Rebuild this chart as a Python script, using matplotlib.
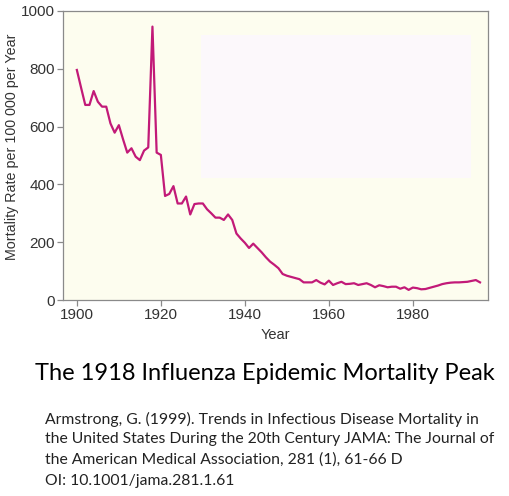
import matplotlib.pyplot as plt
import matplotlib.patches as patches

years = list(range(1900, 1997))
rates = [796, 735, 675, 675, 723, 686, 669, 669, 611, 579,
         605, 556, 510, 525, 496, 484, 517, 528, 946, 510,
         502, 360, 367, 394, 334, 334, 358, 296, 332, 334,
         334, 314, 300, 285, 285, 277, 296, 277, 230, 213,
         198, 180, 195, 180, 165, 148, 133, 122, 110, 90,
         84, 80, 76, 72, 61, 61, 61, 69, 60, 54,
         67, 52, 58, 63, 55, 56, 58, 52, 55, 58,
         52, 44, 51, 48, 44, 46, 46, 39, 44, 35,
         43, 41, 37, 38, 42, 46, 50, 55, 58, 60,
         61, 61, 62, 63, 66, 69, 61]

xticks = [1900, 1920, 1940, 1960, 1980]
yticks = [0, 200, 400, 600, 800, 1000]

title = "The 1918 Influenza Epidemic Mortality Peak"
citation = ["Armstrong, G. (1999). Trends in Infectious Disease Mortality in",
            "the United States During the 20th Century JAMA: The Journal of",
            "the American Medical Association, 281 (1), 61-66 D",
            "OI: 10.1001/jama.281.1.61"]

W, H = 510, 496
fig = plt.figure(figsize=(W / 100, H / 100), dpi=100)
ax = fig.add_axes([63 / W, 1 - 300 / H, (488 - 63) / W, (300 - 11) / H])
ax.set_facecolor('#fdfdef')

# faint pink box inside the plot
ax.add_patch(patches.Rectangle((1929.5, 422), 64.3, 495, facecolor='#fcf8fb',
                               edgecolor='none', zorder=0))

ax.plot(years, rates, color='#c21a78', lw=1.6, zorder=3)

ax.set_xlim(1896.7, 1997.9)
ax.set_ylim(0, 1000)
ax.set_xticks(xticks)
ax.set_yticks(yticks)
for s in ax.spines.values():
    s.set_color('#8a8a8a')
    s.set_linewidth(0.9)
ax.tick_params(colors='#8a8a8a', labelcolor='#333333', labelsize=11, length=4, width=0.9, pad=2)
for lab in ax.get_xticklabels() + ax.get_yticklabels():
    lab.set_family('Liberation Sans')

ax.set_xlabel('Year', family='Liberation Sans', fontsize=10.5, color='#333333', labelpad=4)
ax.set_ylabel('Mortality Rate per 100 000 per Year', family='Liberation Sans',
              fontsize=10.3, color='#333333')
ax.yaxis.set_label_coords(-0.103, 0.531)

fig.text(265 / W, 1 - 373 / H, title, family='Lato', fontsize=17, ha='center', va='center')
for i, line in enumerate(citation):
    fig.text(45 / W, 1 - (419 + i * 20.5) / H, line, family='Lato', fontsize=11.3,
             ha='left', va='center', color='#222222')

fig.savefig('out.png', dpi=100)
